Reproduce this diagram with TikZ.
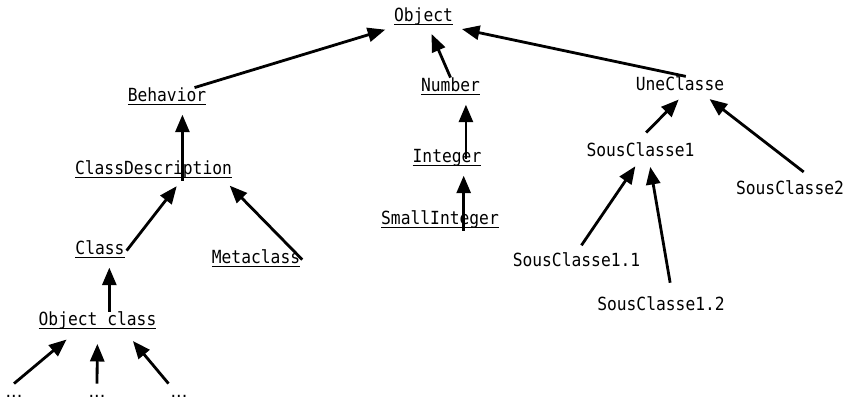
\documentclass[tikz,border=0pt]{standalone}
\usepackage{fontspec}
\setmainfont{DejaVu Sans}
\setmonofont{DejaVu Sans Mono}[FakeStretch=0.9]
\usepackage{tikz}
\usetikzlibrary{arrows.meta}

\newcommand{\clsfont}{\ttfamily\fontsize{10.3}{12}\selectfont}
\newcommand{\ulname}[1]{\setbox0=\hbox{#1}\rlap{\rule[-1.9pt]{\wd0}{0.8pt}}\box0}

\begin{document}
\begin{tikzpicture}[x=0.02cm, y=-0.02cm]
	\tikzset{
		cls/.style={font=\clsfont, inner sep=1pt, text height=7pt, text depth=2pt},
		etc/.style={font=\fontsize{10}{12}\selectfont, inner sep=1pt, text height=7pt, text depth=2pt},
		isa/.style={-{Triangle[length=10pt, width=8pt]}, line width=1.6pt, shorten >=4pt},
		sub/.style={isa, shorten >=2.5pt, shorten <=8pt},
	}
	\useasboundingbox (0,0) rectangle (851,401);

	\node[cls] (obj) at (423.5,17.6) {\ulname{Object}};
	\node[cls] (beh) at (167,97.6) {\ulname{Behavior}};
	\node[cls] (num) at (450.5,87.6) {\ulname{Number}};
	\node[cls] (une) at (680,86.4) {UneClasse};

	\draw[isa] (beh.20) -- (obj.south west);
	\draw[isa] (num.north) -- (obj.-62);
	\draw[isa] (une.60) -- (obj.south east);

	\node[cls] (cd) at (153.5,170.6) {\ulname{ClassDescription}};
	\node[cls] (int) at (447,158.6) {\ulname{Integer}};
	\node[cls] (sc1) at (640.5,152.6) {SousClasse1};
	\node[cls] (sc2) at (790,190.6) {SousClasse2};
	\node[cls] (small) at (440,220.6) {\ulname{SmallInteger}};

	\draw[isa] (beh.-33 |- cd.south) -- (beh.-33);
	\draw[isa] (int.center -| num.-33) -- (num.-33);
	\draw[isa] (int.-31 |- small.south) -- (int.-31);
	\draw[sub] (sc1.113) -- (une.-80);
	\draw[sub] (sc2.22) -- (une.-21);

	\node[cls] (class) at (100,250.6) {\ulname{Class}};
	\node[cls] (meta) at (256,259.6) {\ulname{Metaclass}};
	\node[cls] (sc11) at (576.5,262.6) {SousClasse1.1};
	\node[cls] (sc12) at (661,306.6) {SousClasse1.2};

	\draw[isa] (class.east) -- (cd.-20);
	\draw[isa] (meta.east) -- (cd.-8);
	\draw[sub, shorten <=5pt] (sc11.north) -- (sc1.-105);
	\draw[sub] (sc12.41) -- (sc1.-48);

	\node[cls] (ocl) at (97.5,321.6) {\ulname{Object class}};
	\node[etc] (d1) at (14,393.6) {...};
	\node[etc] (d2) at (97,393.6) {...};
	\node[etc] (d3) at (179,393.6) {...};

	\draw[isa] (class.-47 |- ocl.north) -- (class.-47);
	\draw[isa, shorten >=7pt] (d1.north) -- (ocl.205);
	\draw[isa, shorten >=7pt] (d2.north) -- (ocl.south);
	\draw[isa, shorten >=7pt] (d3.north west) -- (ocl.-20);
\end{tikzpicture}
\end{document}
